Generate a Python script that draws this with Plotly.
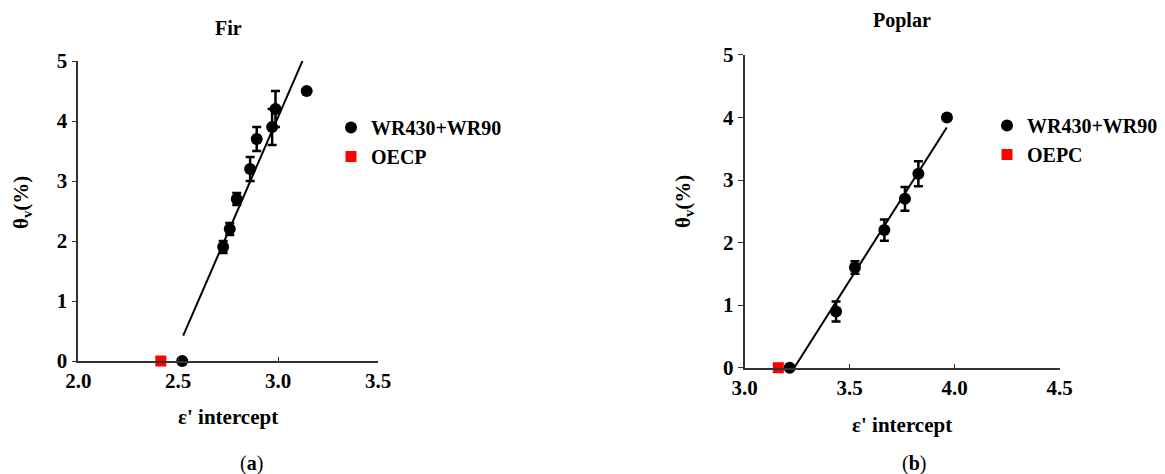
import plotly.graph_objects as go

# ---- Fir ----
fir_x = [2.52, 2.725, 2.758, 2.793, 2.86, 2.893, 2.97, 2.987, 3.143]
fir_y = [0.0, 1.9, 2.2, 2.7, 3.2, 3.7, 3.9, 4.2, 4.5]
fir_err = [0.0, 0.1, 0.1, 0.1, 0.2, 0.2, 0.3, 0.3, 0.0]
fir_ref_x = [2.413]
fir_ref_y = [0.0]
fir_fit_x = [2.525, 3.122]      # fitted line extent
fir_fit_slope = 7.67
fir_fit_x0 = 2.470              # x-axis crossing of the fit

# ---- Poplar ----
pop_x = [3.215, 3.436, 3.526, 3.666, 3.764, 3.828, 3.964]
pop_y = [0.0, 0.9, 1.6, 2.2, 2.7, 3.1, 4.0]
pop_err = [0.0, 0.16, 0.1, 0.17, 0.19, 0.2, 0.0]
pop_ref_x = [3.161]
pop_ref_y = [0.0]
pop_fit_x = [3.237, 3.963]
pop_fit_slope = 5.29
pop_fit_x0 = 3.237

fir_xticks = [2.0, 2.5, 3.0, 3.5]
pop_xticks = [3.0, 3.5, 4.0, 4.5]
y_ticks = [0, 1, 2, 3, 4, 5]

W, H = 1165, 474
FONT = "Liberation Serif"


def px(x):
    return x / W


def py(y):
    return 1 - y / H


fig = go.Figure()


def add_panel(xs, ys, errs, rx, ry, fx, slope, x0, xa, ya, lg, ref_name):
    fy = [slope * (v - x0) for v in fx]
    fig.add_trace(go.Scatter(x=fx, y=fy, mode="lines", line=dict(color="black", width=2),
                             xaxis=xa, yaxis=ya, showlegend=False, hoverinfo="skip"))
    fig.add_trace(go.Scatter(x=xs, y=ys, mode="markers", name="WR430+WR90",
                             marker=dict(color="black", size=12, symbol="circle"),
                             error_y=dict(type="data", array=errs, visible=True,
                                          color="black", thickness=2.5, width=4.5),
                             xaxis=xa, yaxis=ya, legend=lg, cliponaxis=False))
    fig.add_trace(go.Scatter(x=rx, y=ry, mode="markers", name=ref_name,
                             marker=dict(color="#ff0000", size=11, symbol="square"),
                             xaxis=xa, yaxis=ya, legend=lg, cliponaxis=False))


add_panel(fir_x, fir_y, fir_err, fir_ref_x, fir_ref_y, fir_fit_x, fir_fit_slope, fir_fit_x0,
          "x", "y", "legend", "OECP")
add_panel(pop_x, pop_y, pop_err, pop_ref_x, pop_ref_y, pop_fit_x, pop_fit_slope, pop_fit_x0,
          "x2", "y2", "legend2", "OEPC")

axis_common = dict(showgrid=False, zeroline=False, showline=True, linecolor="#333333",
                   linewidth=1.5, automargin=False,
                   tickfont=dict(family=FONT, size=21, color="black", weight="bold"),
                   fixedrange=True)

fir_dom_x = [px(78.3), px(378)]
fir_dom_y = [py(361), py(61)]
pop_dom_x = [px(744.5), px(1059.5)]
pop_dom_y = [py(367.7), py(54.9)]

legend_font = dict(family=FONT, size=20, color="black", weight="bold")

fig.update_layout(
    width=W, height=H,
    margin=dict(l=0, r=0, t=0, b=0, autoexpand=False),
    plot_bgcolor="white", paper_bgcolor="white",
    font=dict(family=FONT, color="black"),
    xaxis=dict(domain=fir_dom_x, range=[2.0, 3.5], tickvals=fir_xticks,
               ticktext=[f"{v:.1f}" for v in fir_xticks], ticks="inside", ticklen=4,
               tickcolor="#333333", anchor="y", **axis_common),
    yaxis=dict(domain=fir_dom_y, range=[0, 5], tickvals=y_ticks, ticks="outside",
               ticklen=5, tickcolor="#333333", anchor="x", **axis_common),
    xaxis2=dict(domain=pop_dom_x, range=[3.0, 4.5], tickvals=pop_xticks,
                ticktext=[f"{v:.1f}" for v in pop_xticks], ticks="inside", ticklen=4,
                tickcolor="#333333", anchor="y2", **axis_common),
    yaxis2=dict(domain=pop_dom_y, range=[0, 5], tickvals=y_ticks, ticks="outside",
                ticklen=5, tickcolor="#333333", anchor="x2", **axis_common),
    legend=dict(x=px(331), y=py(108), xanchor="left", yanchor="top",
                font=legend_font, bgcolor="rgba(0,0,0,0)", tracegroupgap=0,
                itemclick=False),
    legend2=dict(x=px(987), y=py(106), xanchor="left", yanchor="top",
                 font=legend_font, bgcolor="rgba(0,0,0,0)", tracegroupgap=0,
                 itemclick=False),
    showlegend=True,
)


def label(text, x, y, size=21, angle=0):
    fig.add_annotation(text=text, x=px(x), y=py(y), xref="paper", yref="paper",
                       showarrow=False, textangle=angle, xanchor="center", yanchor="middle",
                       font=dict(family=FONT, size=size, color="black"))


label("<b>Fir</b>", 228, 28, 20)
label("<b>Poplar</b>", 902, 20, 20)
label("<b>ε' intercept</b>", 228, 417)
label("<b>ε' intercept</b>", 902, 425)
label("<b>θ<sub>v</sub>(%)</b>", 22, 203, 21, -90)
label("<b>θ<sub>v</sub>(%)</b>", 684, 202, 21, -90)
label("(<b>a</b>)", 251, 463, 20)
label("(<b>b</b>)", 914, 463, 20)

fig.write_html("out.html")
